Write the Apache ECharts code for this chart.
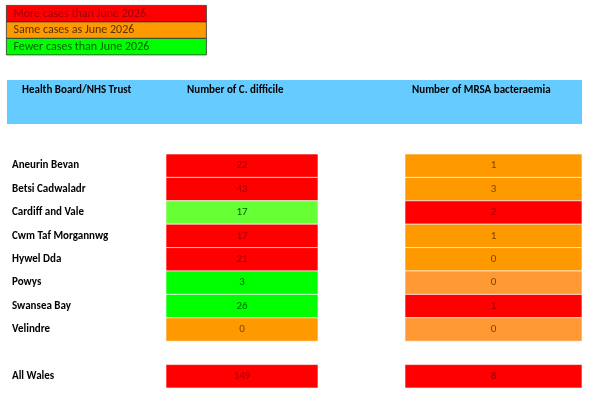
<!DOCTYPE html>
<html><head><meta charset="utf-8">
<script src="https://cdn.jsdelivr.net/npm/echarts@6/dist/echarts.min.js"></script>
<style>html,body{margin:0;padding:0;background:#fff}#c{width:593px;height:400px}</style>
</head><body><div id="c"></div>
<script>
const boards = ["Aneurin Bevan","Betsi Cadwaladr","Cardiff and Vale","Cwm Taf Morgannwg","Hywel Dda","Powys","Swansea Bay","Velindre","","All Wales"];
const cdiff = [22,43,17,17,21,3,26,0,null,149];
const mrsa = [1,3,2,1,0,0,1,0,null,8];
const cdiffStatus = ["more","more","fewer2","more","more","fewer","fewer","same",null,"more"];
const mrsaStatus = ["same","same","more","same","same","same2","more","same2",null,"more"];
const legendLabels = ["More cases than June 2026","Same cases as June 2026","Fewer cases than June 2026"];
const headers = ["Health Board/NHS Trust","Number of C. difficile","Number of MRSA bacteraemia"];

const fill = {more:"#FF0000",same:"#FF9900",same2:"#FF9933",fewer:"#00FF00",fewer2:"#66FF33"};
const ink = {more:"#9C0006",same:"#7A3E00",same2:"#7A3E00",fewer:"#006100",fewer2:"#006100"};
const cols = [{x0:166,x1:318},{x0:405,x1:582}];
const font = "Calibri, 'Liberation Sans', Arial, sans-serif";

const data = boards.map((b,i)=>[i]);
const chart = echarts.init(document.getElementById('c'));
chart.setOption({
  animation:false,
  grid:{left:0,right:0,top:154,bottom:12},
  xAxis:{type:'value',min:0,max:593,show:false},
  yAxis:{type:'category',data:boards,inverse:true,show:false},
  graphic:[
    ...legendLabels.map((t,i)=>({type:'group',left:6,top:5+i*16.5,children:[
      {type:'rect',shape:{x:0,y:0,width:200,height:16.5},style:{fill:[fill.more,fill.same,fill.fewer][i],stroke:'#333',lineWidth:0.8}},
      {type:'text',style:{x:7,y:8.5,text:t,verticalAlign:'middle',fill:[ink.more,'#5a3000',ink.fewer][i],font:'12px '+font}}
    ]})),
    {type:'rect',shape:{x:7,y:80,width:575,height:44},style:{fill:'#66CCFF'}},
    {type:'text',style:{x:22,y:90,text:headers[0],verticalAlign:'middle',fill:'#000',font:'bold 11px '+font}},
    {type:'text',style:{x:187,y:90,text:headers[1],verticalAlign:'middle',fill:'#000',font:'bold 11px '+font}},
    {type:'text',style:{x:412,y:90,text:headers[2],verticalAlign:'middle',fill:'#000',font:'bold 11px '+font}}
  ],
  series:[{
    type:'custom',
    data:data,
    renderItem:function(params,api){
      const i=api.value(0);
      if(!boards[i]) return null;
      const c=api.coord([0,i]);
      const h=api.size([0,1])[1];
      const y0=c[1]-h/2;
      const ch=[{type:'text',style:{x:12,y:c[1],text:boards[i],verticalAlign:'middle',fill:'#000',font:'bold 11px '+font}}];
      [[cdiff,cdiffStatus],[mrsa,mrsaStatus]].forEach(([vals,st],k)=>{
        const col=cols[k];
        ch.push({type:'rect',shape:{x:col.x0,y:y0,width:col.x1-col.x0,height:h},style:{fill:fill[st[i]],stroke:'rgba(255,255,255,0.6)',lineWidth:1}});
        ch.push({type:'text',style:{x:(col.x0+col.x1)/2,y:c[1],text:String(vals[i]),align:'center',verticalAlign:'middle',fill:ink[st[i]],font:'11px '+font}});
      });
      return {type:'group',children:ch};
    }
  }]
});
</script></body></html>
